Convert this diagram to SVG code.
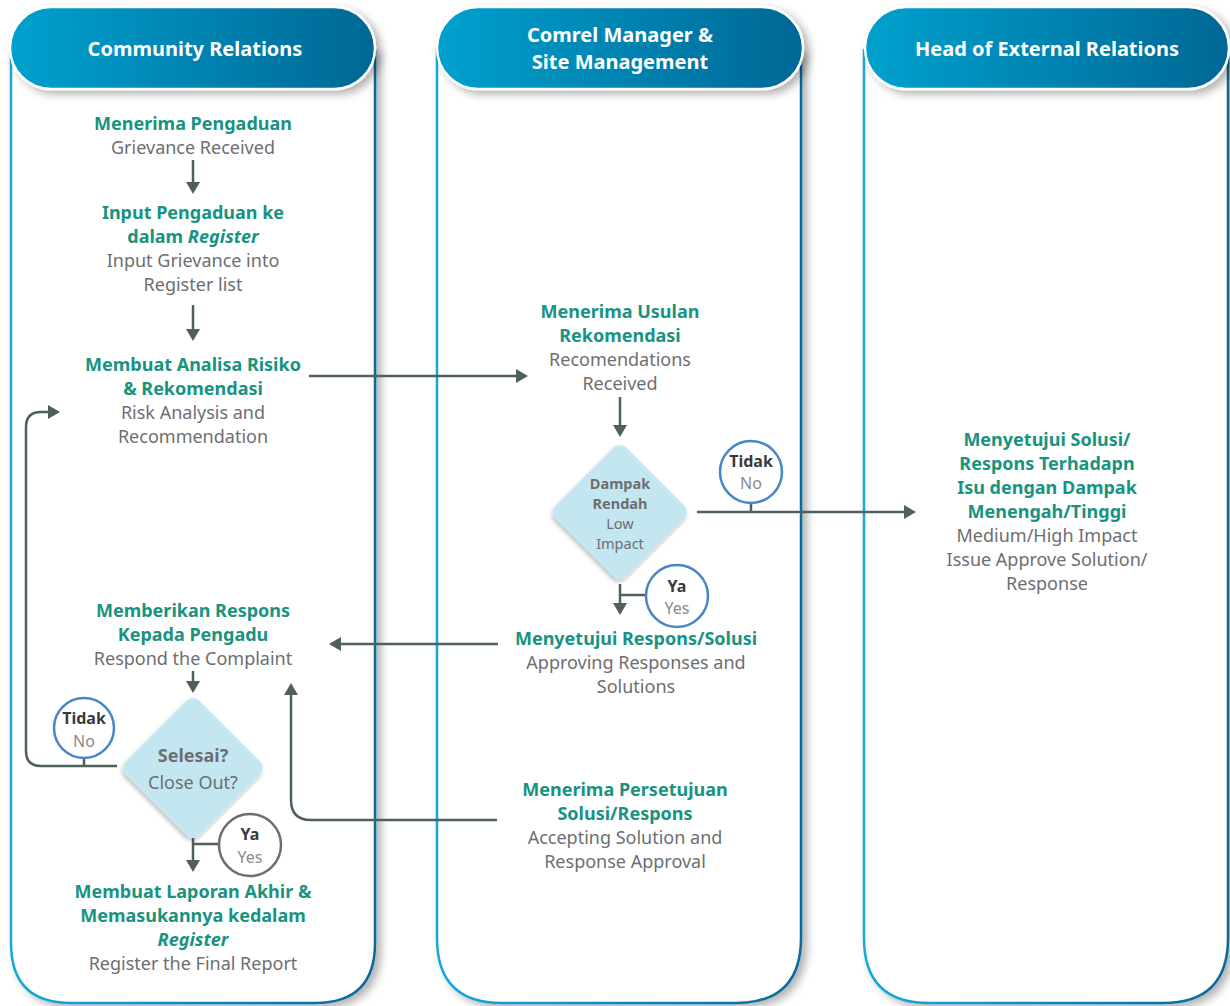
<svg xmlns="http://www.w3.org/2000/svg" width="1230" height="1006" viewBox="0 0 1230 1006">
<defs>
<linearGradient id="hdr" x1="0" y1="0" x2="1" y2="0">
<stop offset="0" stop-color="#00a1ce"/>
<stop offset="1" stop-color="#006795"/>
</linearGradient>
<linearGradient id="pnl" x1="0" y1="0" x2="1" y2="0">
<stop offset="0" stop-color="#16a8da"/>
<stop offset="1" stop-color="#0a6898"/>
</linearGradient>
<filter id="sh" x="-10%" y="-10%" width="125%" height="125%">
<feDropShadow dx="5" dy="4" stdDeviation="4" flood-color="#000" flood-opacity="0.3"/>
</filter>
<filter id="dsh" x="-20%" y="-20%" width="150%" height="150%">
<feDropShadow dx="1" dy="3" stdDeviation="2" flood-color="#000" flood-opacity="0.25"/>
</filter>
<marker id="ah" markerUnits="userSpaceOnUse" markerWidth="16" markerHeight="16" refX="9" refY="7" orient="auto">
<path d="M0,0 L12,7 L0,14 z" fill="#4f5f5a"/>
</marker>
<style>
text{font-family:"Noto Sans","Open Sans","DejaVu Sans",sans-serif;text-anchor:middle;font-size:18px}
.t{fill:#17937f;font-weight:bold}
.g{fill:#6d6e71}
.h{fill:#fff;font-weight:bold;font-size:20px}
.d{fill:#6d6e71;font-weight:bold}
.ds{font-size:14.5px}
.ck{fill:#3a3a3a;font-weight:bold;font-size:16px}
.cg{fill:#8a8b8d;font-size:16px}
.pnl{fill:#fff;stroke:url(#pnl);stroke-width:2.5}
.hdr{fill:url(#hdr);stroke:#fff;stroke-width:2.5}
.cb{fill:#fff;stroke:#4a86c5;stroke-width:2.5}
.cgr{fill:#fff;stroke:#6d6e71;stroke-width:2.5}
.dia{fill:#c3e6f1}
.cn{fill:none;stroke:#4f5f5a;stroke-width:2.5}
.ar{fill:none;stroke:#4f5f5a;stroke-width:2.5;marker-end:url(#ah)}
</style>
</defs>
<rect width="1230" height="1006" fill="#fff"/>

<g id="lane1">
<path class="pnl" filter="url(#sh)" d="M11,50 V943 Q11,1003 71,1003 H315 Q375,1003 375,943 V50 Z"/>
<rect class="hdr" filter="url(#sh)" x="10" y="7" width="365" height="82" rx="41"/>
<text class="h" x="195" y="56">Community Relations</text>
</g>
<g id="lane2">
<path class="pnl" filter="url(#sh)" d="M437,50 V938 Q437,1003 502,1003 H736 Q801,1003 801,938 V50 Z"/>
<rect class="hdr" filter="url(#sh)" x="437" y="7" width="366" height="82" rx="41"/>
<text class="h" x="620" y="42">Comrel Manager &amp;</text>
<text class="h" x="620" y="69">Site Management</text>
</g>
<g id="lane3">
<path class="pnl" filter="url(#sh)" d="M864,50 V938 Q864,1003 929,1003 H1163 Q1228,1003 1228,938 V50 Z"/>
<rect class="hdr" filter="url(#sh)" x="865" y="7" width="364" height="82" rx="41"/>
<text class="h" x="1047" y="56">Head of External Relations</text>
</g>

<g id="connectors">
<path class="ar" d="M193,160 V191"/>
<path class="ar" d="M193,305 V338"/>
<path class="ar" d="M309,376 H525"/>
<path class="ar" d="M620,397 V434"/>
<path class="ar" d="M697,512 H913"/>
<path class="ar" d="M620,584 V612"/>
<path class="ar" d="M498,644 H332"/>
<path class="ar" d="M497,820 H311 Q291,820 291,800 V686"/>
<path class="ar" d="M193,671 V690"/>
<path class="ar" d="M117,766 H41 Q26,766 26,751 V427 Q26,412 41,412 H57"/>
<path class="ar" d="M193,838 V869"/>
<path class="cn" d="M84,758 V766"/>
<path class="cn" d="M751,503 V512"/>
<path class="cn" d="M620,595 H647"/>
<path class="cn" d="M193,844 H219"/>
</g>

<g id="n1">
<text class="t" x="193" y="130">Menerima Pengaduan</text>
<text class="g" x="193" y="154">Grievance Received</text>
</g>
<g id="n2">
<text class="t" x="193" y="219">Input Pengaduan ke</text>
<text class="t" x="193" y="243">dalam <tspan font-style="italic">Register</tspan></text>
<text class="g" x="193" y="267">Input Grievance into</text>
<text class="g" x="193" y="291">Register list</text>
</g>
<g id="n3">
<text class="t" x="193" y="371">Membuat Analisa Risiko</text>
<text class="t" x="193" y="395">&amp; Rekomendasi</text>
<text class="g" x="193" y="419">Risk Analysis and</text>
<text class="g" x="193" y="443">Recommendation</text>
</g>
<g id="n4">
<text class="t" x="620" y="318">Menerima Usulan</text>
<text class="t" x="620" y="342">Rekomendasi</text>
<text class="g" x="620" y="366">Recomendations</text>
<text class="g" x="620" y="390">Received</text>
</g>
<g id="d1">
<rect class="dia" filter="url(#dsh)" x="570" y="462" width="100" height="100" rx="9" transform="rotate(45 620 512)"/>
<text class="d ds" x="620" y="489">Dampak</text>
<text class="d ds" x="620" y="509">Rendah</text>
<text class="g ds" x="620" y="529">Low</text>
<text class="g ds" x="620" y="549">Impact</text>
</g>
<g id="c1">
<circle class="cb" cx="751" cy="472" r="31"/>
<text class="ck" x="751" y="467">Tidak</text>
<text class="cg" x="751" y="489">No</text>
</g>
<g id="c2">
<circle class="cb" cx="677" cy="596" r="31"/>
<text class="ck" x="677" y="592">Ya</text>
<text class="cg" x="677" y="614">Yes</text>
</g>
<g id="n5">
<text class="t" x="1047" y="446">Menyetujui Solusi/</text>
<text class="t" x="1047" y="470">Respons Terhadapn</text>
<text class="t" x="1047" y="494">Isu dengan Dampak</text>
<text class="t" x="1047" y="518">Menengah/Tinggi</text>
<text class="g" x="1047" y="542">Medium/High Impact</text>
<text class="g" x="1047" y="566">Issue Approve Solution/</text>
<text class="g" x="1047" y="590">Response</text>
</g>
<g id="n6">
<text class="t" x="636" y="645">Menyetujui Respons/Solusi</text>
<text class="g" x="636" y="669">Approving Responses and</text>
<text class="g" x="636" y="693">Solutions</text>
</g>
<g id="n7">
<text class="t" x="625" y="796">Menerima Persetujuan</text>
<text class="t" x="625" y="820">Solusi/Respons</text>
<text class="g" x="625" y="844">Accepting Solution and</text>
<text class="g" x="625" y="868">Response Approval</text>
</g>
<g id="n8">
<text class="t" x="193" y="617">Memberikan Respons</text>
<text class="t" x="193" y="641">Kepada Pengadu</text>
<text class="g" x="193" y="665">Respond the Complaint</text>
</g>
<g id="d2">
<rect class="dia" filter="url(#dsh)" x="141" y="716" width="104" height="104" rx="9" transform="rotate(45 193 768)"/>
<text class="d" x="193" y="762">Selesai?</text>
<text class="g" x="193" y="789">Close Out?</text>
</g>
<g id="c3">
<circle class="cb" cx="84" cy="728" r="30"/>
<text class="ck" x="84" y="724">Tidak</text>
<text class="cg" x="84" y="747">No</text>
</g>
<g id="c4">
<circle class="cgr" cx="250" cy="845" r="31"/>
<text class="ck" x="250" y="840">Ya</text>
<text class="cg" x="250" y="863">Yes</text>
</g>
<g id="n9">
<text class="t" x="193" y="898">Membuat Laporan Akhir &amp;</text>
<text class="t" x="193" y="922">Memasukannya kedalam</text>
<text class="t" x="193" y="946" font-style="italic">Register</text>
<text class="g" x="193" y="970">Register the Final Report</text>
</g>
</svg>
